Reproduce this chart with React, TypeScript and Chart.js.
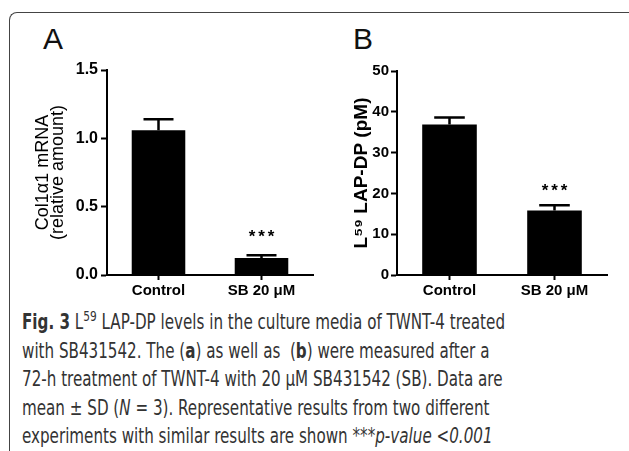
import React, { useEffect, useLayoutEffect, useRef } from "react";
import { Chart, registerables } from "chart.js";

Chart.register(...registerables);

// ---- data ----
const categories = ["Control", "SB 20 μM"];
const meanA = [1.06, 0.125];
const sdA = [0.08, 0.02];
const meanB = [36.9, 15.8];
const sdB = [1.7, 1.3];
const significance = ["", "***"];
const yTicksA = ["0.0", "0.5", "1.0", "1.5"];
const yTicksB = ["0", "10", "20", "30", "40", "50"];
const yTitleA = ["Col1α1 mRNA", "(relative amount)"];
const yTitleB = "L⁵⁹ LAP-DP (pM)";

const FONT = "'Liberation Sans', Arial, Helvetica, sans-serif";
const CAPTION_FONT = "'Liberation Sans Narrow', 'DejaVu Sans Condensed', 'Liberation Sans', sans-serif";

const errorBars = {
  id: "errorBars",
  afterDatasetsDraw(chart: any, _args: any, opts: any) {
    const { ctx } = chart;
    const meta = chart.getDatasetMeta(0);
    const yScale = chart.scales.y;
    const values = chart.data.datasets[0].data as number[];
    meta.data.forEach((bar: any, i: number) => {
      const x = bar.x;
      const top = yScale.getPixelForValue(values[i] + opts.sd[i]);
      const cap = bar.width * 0.56;
      ctx.save();
      ctx.strokeStyle = "#000";
      ctx.lineWidth = 2.5;
      ctx.beginPath();
      ctx.moveTo(x, bar.y);
      ctx.lineTo(x, top);
      ctx.moveTo(x - cap / 2, top);
      ctx.lineTo(x + cap / 2, top);
      ctx.stroke();
      const s = opts.stars[i];
      if (s) {
        ctx.fillStyle = "#000";
        ctx.font = `bold 17px ${FONT}`;
        ctx.textAlign = "center";
        ctx.textBaseline = "alphabetic";
        const gap = 9.5;
        for (let k = 0; k < s.length; k++) {
          ctx.fillText(s[k], x + (k - (s.length - 1) / 2) * gap, top - opts.starGap);
        }
      }
      ctx.restore();
    });
  },
};

function makeConfig(p: any): any {
  return {
    type: "bar",
    data: {
      labels: categories,
      datasets: [
        {
          data: p.values,
          backgroundColor: "#000",
          borderWidth: 0,
          barPercentage: 0.52,
          categoryPercentage: 1,
        },
      ],
    },
    options: {
      animation: false,
      responsive: false,
      maintainAspectRatio: false,
      layout: { padding: p.padding },
      plugins: {
        legend: { display: false },
        tooltip: { enabled: false },
        errorBars: { sd: p.sd, stars: significance, starGap: p.starGap },
      },
      scales: {
        x: {
          grid: {
            display: true,
            drawOnChartArea: false,
            offset: false,
            drawTicks: true,
            tickLength: 5,
            tickWidth: 2,
            tickColor: "#000",
            color: "#000",
          },
          border: { display: true, color: "#000", width: 2 },
          ticks: {
            color: "#000",
            font: { family: FONT, size: 15, weight: "bold" },
            padding: 2,
            maxRotation: 0,
            autoSkip: false,
          },
          afterFit: (s: any) => {
            s.height = p.xHeight;
          },
        },
        y: {
          min: 0,
          max: p.max,
          grid: {
            display: true,
            drawOnChartArea: false,
            drawTicks: true,
            tickLength: 6,
            tickWidth: 2,
            tickColor: "#000",
            color: "#000",
          },
          border: { display: true, color: "#000", width: 2 },
          ticks: {
            stepSize: p.step,
            color: "#000",
            font: { family: FONT, size: p.tickSize, weight: "bold" },
            padding: p.tickPad,
            callback: (_v: any, i: number) => p.tickLabels[i],
          },
          title: {
            display: true,
            text: p.title,
            color: "#000",
            font: { family: FONT, size: p.titleSize, weight: p.titleWeight, lineHeight: p.titleLH },
            padding: { top: p.titlePad, bottom: 0 },
          },
          afterFit: (s: any) => {
            s.width = p.yWidth;
          },
        },
      },
    },
    plugins: [errorBars],
  };
}

function BarPanel(props: { cfg: any; width: number; height: number; left: number; top: number }) {
  const ref = useRef<HTMLCanvasElement>(null);
  useEffect(() => {
    if (!ref.current) return;
    const chart = new Chart(ref.current, makeConfig(props.cfg));
    return () => chart.destroy();
  }, []);
  return (
    <canvas
      ref={ref}
      width={props.width}
      height={props.height}
      style={{ position: "absolute", left: props.left, top: props.top, width: props.width, height: props.height }}
    />
  );
}

const cfgA = {
  values: meanA,
  sd: sdA,
  max: 1.5,
  step: 0.5,
  tickLabels: yTicksA,
  tickSize: 16,
  title: yTitleA,
  titleSize: 18,
  titleWeight: "normal",
  titleLH: 0.8,
  titlePad: 6,
  tickPad: 3,
  padding: { left: 30, right: 7, top: 70, bottom: 0 },
  yWidth: 77,
  xHeight: 25,
  starGap: 13,
};

const cfgB = {
  values: meanB,
  sd: sdB,
  max: 50,
  step: 10,
  tickLabels: yTicksB,
  tickSize: 15,
  title: yTitleB,
  titleSize: 19,
  titleWeight: "bold",
  titleLH: 1.2,
  titlePad: 10,
  tickPad: 2,
  padding: { left: 20, right: 22, top: 71, bottom: 0 },
  yWidth: 57,
  xHeight: 25,
  starGap: 9,
};

const lineStyle: React.CSSProperties = { whiteSpace: "pre", height: 28.5 };
const CAPTION_FIRST_LINE_WIDTH = 483;

export default function App() {
  const capRef = useRef<HTMLDivElement>(null);
  const firstRef = useRef<HTMLSpanElement>(null);
  useLayoutEffect(() => {
    if (!capRef.current || !firstRef.current) return;
    const w = firstRef.current.getBoundingClientRect().width;
    if (w > 0) {
      capRef.current.style.transform = `scaleX(${CAPTION_FIRST_LINE_WIDTH / w})`;
    }
  }, []);
  return (
    <div
      style={{
        position: "absolute",
        left: 0,
        top: 0,
        width: 629,
        height: 451,
        overflow: "hidden",
        background: "#fff",
      }}
    >
      <div
        style={{
          position: "absolute",
          left: 9,
          top: 12,
          width: 700,
          height: 500,
          borderTop: "1.5px solid #444",
          borderLeft: "1.5px solid #444",
          borderTopLeftRadius: 8,
        }}
      />
      <div
        style={{
          position: "absolute",
          left: 0,
          top: 0,
          fontFamily: FONT,
          fontSize: 30,
          lineHeight: "30px",
          color: "#111",
        }}
      >
        <div style={{ position: "absolute", left: 43, top: 24 }}>A</div>
        <div style={{ position: "absolute", left: 353, top: 24 }}>B</div>
      </div>
      <BarPanel cfg={cfgA} width={320} height={300} left={0} top={0} />
      <BarPanel cfg={cfgB} width={309} height={300} left={320} top={0} />
      <div
        ref={capRef}
        style={{
          position: "absolute",
          left: 22,
          top: 308,
          fontFamily: CAPTION_FONT,
          fontSize: 21,
          lineHeight: "28.5px",
          color: "#333",
          transformOrigin: "0 0",
        }}
      >
        <div style={lineStyle}>
          <span ref={firstRef}>
            <b>Fig. 3</b> L<sup style={{ fontSize: "0.7em", lineHeight: 0 }}>59</sup> LAP-DP levels in the culture media of TWNT-4 treated
          </span>
        </div>
        <div style={lineStyle}>
          with SB431542. The (<b>a</b>) as well as  (<b>b</b>) were measured after a
        </div>
        <div style={lineStyle}>72-h treatment of TWNT-4 with 20 μM SB431542 (SB). Data are</div>
        <div style={lineStyle}>
          mean ± SD (<i>N</i> = 3). Representative results from two different
        </div>
        <div style={lineStyle}>
          experiments with similar results are shown <i>***p-value &lt;0.001</i>
        </div>
      </div>
    </div>
  );
}
